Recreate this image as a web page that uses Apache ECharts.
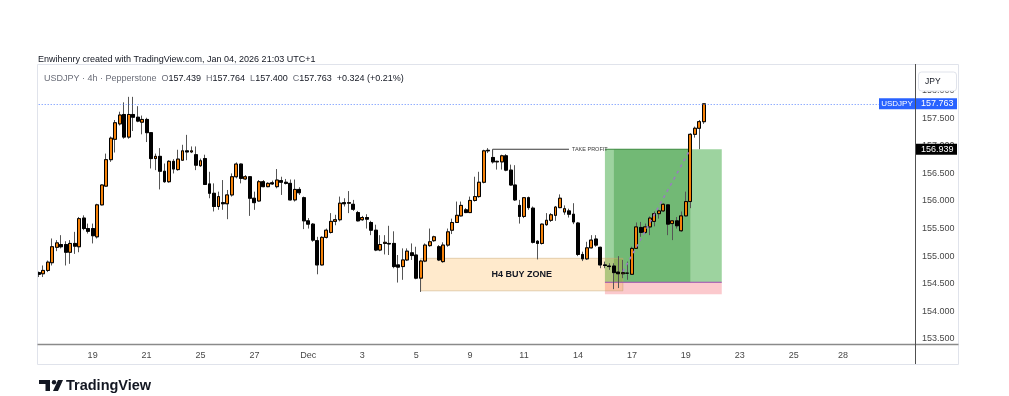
<!DOCTYPE html>
<html><head><meta charset="utf-8">
<script src="https://cdn.jsdelivr.net/npm/echarts@6/dist/echarts.min.js"></script>
<style>html,body{margin:0;padding:0;background:#fff}#c{width:1009px;height:396px}</style>
</head><body><div id="c"></div>
<script>
// ---- data (USDJPY 4h, Pepperstone) ----
const opens = [154.70,154.68,154.74,154.88,155.16,155.21,155.21,155.07,155.23,155.17,155.69,155.50,155.50,155.35,155.93,156.27,156.75,157.12,157.40,157.57,157.16,157.57,157.52,157.43,157.48,157.24,156.77,156.81,156.54,156.35,
156.72,156.57,156.74,156.91,156.89,156.84,156.64,156.77,156.31,156.14,155.90,155.97,155.95,156.11,156.44,156.67,156.40,156.44,156.05,156.00,156.35,156.26,156.33,156.26,156.37,156.34,156.32,156.02,156.21,156.06,
155.64,155.58,155.28,154.84,155.34,155.43,155.63,155.66,155.97,155.96,155.94,155.79,155.66,155.70,155.61,155.47,155.11,155.23,155.23,155.23,154.84,154.81,154.93,155.06,155.02,154.60,154.91,155.19,155.28,155.17,
154.90,155.20,155.47,155.61,155.73,155.84,155.79,156.01,156.08,156.34,156.92,156.79,156.71,156.71,156.82,156.56,156.29,155.92,155.72,156.06,155.87,155.27,155.23,155.57,155.65,155.74,155.88,155.80,155.82,155.76,
155.60,155.03,154.95,155.15,155.31,155.16,154.84,154.82,154.82,154.71,154.68,154.69,154.67,155.14,155.52,155.43,155.53,155.63,155.77,155.82,155.93,155.59,155.64,155.46,155.73,155.99,157.21,157.32,157.439];
const highs = [154.72,154.83,154.92,155.32,155.29,155.38,155.27,155.29,155.44,155.71,155.74,155.59,155.59,155.95,156.30,156.86,157.17,157.47,157.62,157.79,157.89,157.89,157.72,157.55,157.51,157.25,156.86,156.96,156.68,156.74,
156.76,156.93,157.02,157.20,156.99,156.99,156.77,156.84,156.53,156.32,156.17,156.38,156.20,156.50,156.70,156.68,156.47,156.45,156.17,156.38,156.38,156.34,156.37,156.58,156.44,156.40,156.39,156.39,156.25,156.08,
155.69,155.60,155.35,155.36,155.50,155.78,155.75,156.08,156.05,156.18,156.02,155.82,155.73,155.76,155.64,155.57,155.38,155.38,155.55,155.45,155.02,155.14,155.14,155.23,155.17,154.93,155.23,155.50,155.37,155.20,
155.25,155.50,155.68,155.99,155.99,155.87,156.08,156.44,156.53,156.93,156.96,156.80,156.73,156.84,156.85,156.66,156.65,156.02,156.07,156.08,155.90,155.29,155.59,155.78,155.78,155.91,156.12,155.92,155.86,155.96,
155.62,155.08,155.26,155.38,155.38,155.17,154.90,154.87,154.87,155.00,154.93,154.90,155.17,155.61,155.62,155.59,155.72,155.81,155.84,155.96,155.94,155.65,155.71,155.81,156.17,157.23,157.35,157.47,157.764];
const lows = [154.62,154.62,154.71,154.83,155.09,155.14,154.83,154.86,155.04,155.07,155.47,155.41,155.23,155.32,155.92,156.26,156.71,156.88,157.37,157.13,157.13,157.27,157.43,157.21,157.07,156.59,156.56,156.21,156.33,156.33,
156.50,156.55,156.73,156.74,156.87,156.56,156.62,156.29,156.05,155.81,155.84,155.84,155.67,156.08,156.41,156.32,156.38,155.73,155.84,155.99,156.25,156.25,156.29,156.23,156.11,156.30,156.01,155.99,156.11,155.49,
155.50,155.26,154.67,154.83,155.32,155.41,155.56,155.63,155.90,155.78,155.82,155.63,155.64,155.50,155.38,155.09,155.09,155.03,155.02,154.78,154.52,154.57,154.91,154.93,154.58,154.35,154.89,155.17,155.26,154.91,
154.88,155.17,155.40,155.60,155.72,155.78,155.78,155.99,156.06,156.32,156.87,156.68,156.57,156.57,156.54,156.28,156.00,155.59,155.69,155.84,155.23,154.94,155.21,155.55,155.62,155.64,155.87,155.75,155.70,155.58,
155.00,154.91,154.93,155.14,155.17,154.78,154.78,154.75,154.40,154.42,154.60,154.57,154.66,155.13,155.35,155.41,155.38,155.54,155.68,155.80,155.38,155.29,155.50,155.44,155.72,155.87,157.15,156.94,157.400];
const closes = [154.67,154.74,154.89,155.17,155.24,155.17,155.07,155.23,155.18,155.68,155.50,155.45,155.37,155.93,156.29,156.75,157.14,157.42,157.56,157.16,157.57,157.52,157.45,157.48,157.24,156.77,156.81,156.54,156.35,156.72,
156.58,156.76,156.91,156.89,156.91,156.65,156.73,156.30,156.14,155.90,156.08,155.95,156.11,156.44,156.67,156.41,156.44,156.05,155.97,156.35,156.26,156.32,156.31,156.38,156.34,156.32,156.02,156.21,156.15,155.64,
155.58,155.29,154.84,155.34,155.47,155.63,155.66,155.96,155.95,155.97,155.85,155.64,155.70,155.67,155.47,155.11,155.21,155.25,155.22,154.81,154.80,154.93,155.09,155.01,154.60,154.91,155.20,155.26,155.35,154.93,
155.20,155.44,155.61,155.74,155.92,155.79,156.01,156.08,156.34,156.91,156.91,156.71,156.72,156.82,156.56,156.29,156.02,155.72,156.06,155.88,155.25,155.23,155.58,155.65,155.75,155.89,156.05,155.86,155.76,155.62,
155.03,154.95,155.15,155.29,155.20,154.84,154.83,154.81,154.70,154.68,154.70,154.69,155.14,155.53,155.43,155.53,155.69,155.77,155.82,155.94,155.58,155.64,155.55,155.73,155.99,157.21,157.32,157.44,157.763];
const totalSlots = 196;
const xTickLabels = ['19','21','25','27','Dec','3','5','9','11','14','17','19','23','25','28'];
const xTickBars   = [12,24,36,48,60,72,84,96,108,120,132,144,156,168,179];
const yTickValues = [153.5,154,154.5,155,155.5,156,156.5,157,157.5,158];
const buyZone = [154.37, 154.96];
const buyZoneBars = [85, 130];
const entryPrice = 154.525, targetPrice = 156.939, stopPrice = 154.31;
const positionBars = [126, 152];
const hitBars = [128, 145];
const tpAnchor = [101, 156.80];
const tpLineEndBar = 118;
const pathStart = [130, 154.72];
const changeText = '+0.324 (+0.21%)';

// ---- build ----
const cats = Array.from({length: totalSlots}, (_, i) => String(i));
const wickData = opens.map((o, i) => [o, closes[i], lows[i], highs[i]]);
const bodyData = opens.map((o, i) => [o, closes[i], Math.min(o, closes[i]), Math.max(o, closes[i])]);
const tickMap = {}; xTickBars.forEach((b, i) => tickMap[b] = xTickLabels[i]);
const FONT = "'Liberation Sans', Arial, sans-serif";
const last = opens.length - 1;
const lastClose = closes[last];

const chart = echarts.init(document.getElementById('c'), null, {renderer: 'canvas'});
chart.setOption({
  animation: false,
  backgroundColor: '#ffffff',
  grid: {left: 38.7, right: 94, top: 64, bottom: 52},
  xAxis: {
    type: 'category', data: cats, boundaryGap: false,
    axisLine: {show: false}, axisTick: {show: false}, splitLine: {show: false},
    axisLabel: {
      interval: (idx) => tickMap[idx] !== undefined,
      formatter: (v, idx) => tickMap[idx] || '',
      color: '#474747', fontSize: 9, fontFamily: FONT, margin: 7
    }
  },
  yAxis: {
    type: 'value', position: 'right', min: 153.405, max: 158.486, scale: true,
    axisLine: {show: false}, axisTick: {show: false}, splitLine: {show: false},
    axisLabel: {customValues: yTickValues, formatter: (v) => v.toFixed(3), color: '#474747', fontSize: 9, fontFamily: FONT, margin: 7}
  },
  series: [
    {
      type: 'candlestick', name: 'wicks', data: wickData, barWidth: 3.4, z: 3, silent: true,
      itemStyle: {color: 'rgba(0,0,0,0)', color0: 'rgba(0,0,0,0)', borderColor: '#555555', borderColor0: '#555555', borderWidth: 1},
      markArea: {
        silent: true,
        data: [
          [{xAxis: String(positionBars[0]), yAxis: entryPrice, itemStyle: {color: 'rgba(76,175,80,0.55)'}}, {xAxis: String(positionBars[1]), yAxis: targetPrice}],
          [{xAxis: String(positionBars[0]), yAxis: stopPrice, itemStyle: {color: 'rgba(242,54,69,0.27)'}}, {xAxis: String(positionBars[1]), yAxis: entryPrice}],
          [{xAxis: String(hitBars[0]), yAxis: entryPrice, itemStyle: {color: 'rgba(56,150,60,0.42)'}}, {xAxis: String(hitBars[1]), yAxis: targetPrice}],
          [{xAxis: String(buyZoneBars[0]), yAxis: buyZone[0], itemStyle: {color: 'rgba(255,152,0,0.2)', borderColor: 'rgba(200,170,120,0.5)', borderWidth: 1},
            label: {show: true, position: 'inside', formatter: 'H4 BUY ZONE', color: '#131722', fontWeight: 'bold', fontSize: 9, fontFamily: FONT}},
           {xAxis: String(buyZoneBars[1]), yAxis: buyZone[1]}]
        ],
        label: {show: false}
      },
      markLine: {
        silent: true, symbol: 'none', label: {show: false},
        lineStyle: {type: [1, 2], color: 'rgba(41,98,255,0.75)', width: 1},
        data: [{yAxis: lastClose}]
      }
    },
    {
      type: 'candlestick', name: 'USDJPY', data: bodyData, barWidth: 3.4, z: 4, silent: true,
      itemStyle: {color: '#f5820a', color0: '#000000', borderColor: '#000000', borderColor0: '#000000', borderWidth: 1}
    },
    {type: 'line', data: [[String(tpAnchor[0]), tpAnchor[1]], [String(tpAnchor[0]), targetPrice], [String(tpLineEndBar), targetPrice]],
     symbol: 'none', lineStyle: {color: '#3a3a3a', width: 1}, z: 5, silent: true},
    {type: 'line', data: [[String(positionBars[0]), targetPrice], [String(hitBars[1]), targetPrice]],
     symbol: 'none', lineStyle: {color: '#3d8b40', width: 1}, z: 2, silent: true},
    {type: 'line', data: [[String(positionBars[0]), entryPrice], [String(positionBars[1]), entryPrice]],
     symbol: 'none', lineStyle: {color: '#9c4fb0', width: 1}, z: 2, silent: true},
    {type: 'line', data: [[String(pathStart[0]), pathStart[1]], [String(hitBars[1]), targetPrice]],
     symbol: 'none', lineStyle: {color: '#9a7cc0', width: 1.5, type: [3, 4]}, z: 5, silent: true}
  ]
});

const px = (x, y) => chart.convertToPixel({xAxisIndex: 0, yAxisIndex: 0}, [String(x), y]);
const yLast = px(last, lastClose)[1];
const yTp = px(0, targetPrice)[1];
const tpEnd = px(tpLineEndBar, targetPrice);
const f3 = (v) => v.toFixed(3);

chart.setOption({
  graphic: [
    // frame
    {type: 'rect', shape: {x: 37.5, y: 64.5, width: 921, height: 300}, style: {fill: 'none', stroke: '#e0e3eb', lineWidth: 1}, z: 50},
    {type: 'line', shape: {x1: 37.5, y1: 344.5, x2: 958.5, y2: 344.5}, style: {stroke: '#8a8a8a', lineWidth: 1.5}, z: 50},
    {type: 'line', shape: {x1: 915.5, y1: 64, x2: 915.5, y2: 364}, style: {stroke: '#505050', lineWidth: 1}, z: 50},
    // header texts
    {type: 'text', x: 38, y: 59.5, style: {text: 'Enwihenry created with TradingView.com, Jan 04, 2026 21:03 UTC+1', font: '9px ' + FONT, fill: '#131722', verticalAlign: 'middle'}, z: 60},
    {type: 'text', x: 44, y: 78.5, style: {
      text: '{g|USDJPY · 4h · Pepperstone}  {g|O}{v|' + f3(opens[last]) + '}  {g|H}{v|' + f3(highs[last]) + '}  {g|L}{v|' + f3(lows[last]) + '}  {g|C}{v|' + f3(closes[last]) + '}  {v|' + changeText + '}',
      font: '9px ' + FONT, verticalAlign: 'middle',
      rich: {g: {fill: '#6a6d78', font: '9px ' + FONT}, v: {fill: '#131722', font: '9px ' + FONT}}}, z: 60},
    // JPY box
    {type: 'rect', shape: {x: 918.5, y: 72, width: 38, height: 19, r: 3}, style: {fill: '#ffffff', stroke: '#e0e3eb'}, z: 60},
    {type: 'text', x: 925, y: 81.5, style: {text: 'JPY', font: '8.5px ' + FONT, fill: '#131722', verticalAlign: 'middle'}, z: 61},
    // last price tags
    {type: 'rect', shape: {x: 879, y: yLast - 5.5, width: 36, height: 11}, style: {fill: '#2962ff'}, z: 60},
    {type: 'text', x: 897, y: yLast, style: {text: 'USDJPY', font: '8px ' + FONT, fill: '#ffffff', align: 'center', verticalAlign: 'middle'}, z: 61},
    {type: 'rect', shape: {x: 916, y: yLast - 5.5, width: 41, height: 11}, style: {fill: '#2962ff'}, z: 60},
    {type: 'text', x: 921, y: yLast, style: {text: f3(lastClose), font: '9px ' + FONT, fill: '#ffffff', verticalAlign: 'middle'}, z: 61},
    // target tag
    {type: 'rect', shape: {x: 916, y: yTp - 5.5, width: 41, height: 11}, style: {fill: '#000000'}, z: 60},
    {type: 'text', x: 921, y: yTp, style: {text: f3(targetPrice), font: '9px ' + FONT, fill: '#ffffff', verticalAlign: 'middle'}, z: 61},
    // take profit text
    {type: 'text', x: tpEnd[0] + 3, y: tpEnd[1], style: {text: 'TAKE PROFIT', font: '5.5px ' + FONT, fill: '#3a3a3a', verticalAlign: 'middle'}, z: 61},
    // footer logo
    {type: 'polygon', shape: {points: [[39, 380], [50, 380], [50, 391], [45.5, 391], [45.5, 384], [39, 384]]}, style: {fill: '#131722'}, z: 60},
    {type: 'circle', shape: {cx: 54, cy: 382.2, r: 2.2}, style: {fill: '#131722'}, z: 60},
    {type: 'polygon', shape: {points: [[58, 380], [63, 380], [58, 391], [53, 391]]}, style: {fill: '#131722'}, z: 60},
    {type: 'text', x: 66, y: 386, style: {text: 'TradingView', font: 'bold 14.5px ' + FONT, fill: '#131722', verticalAlign: 'middle'}, z: 60}
  ]
});
</script>
</body></html>
